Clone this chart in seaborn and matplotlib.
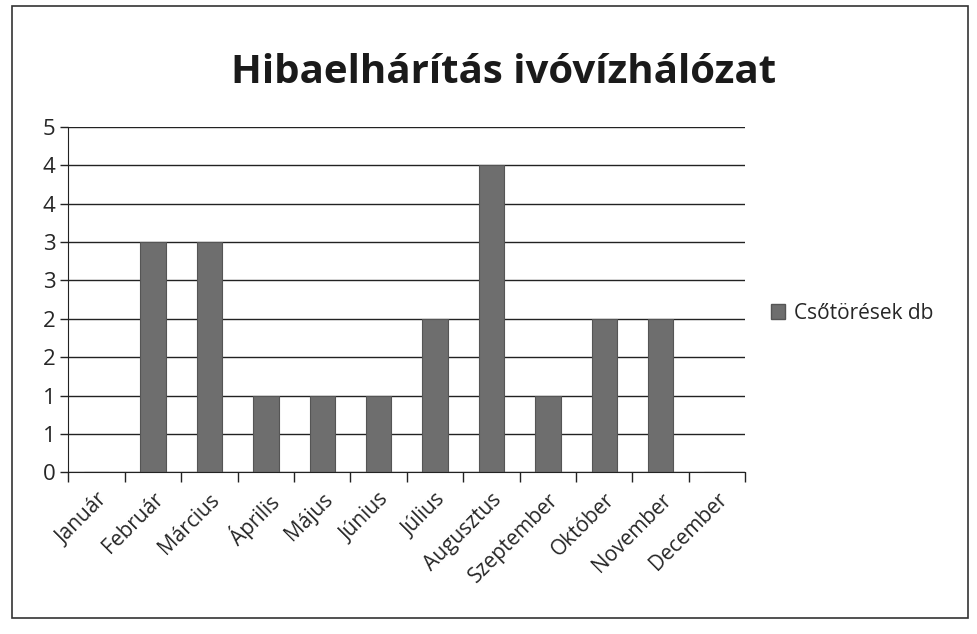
import matplotlib
matplotlib.use("Agg")
import numpy as np
import pandas as pd
import matplotlib.pyplot as plt
import seaborn as sns
from matplotlib.patches import Patch, Rectangle

# data
months = ['Január', 'Február', 'Március', 'Április', 'Május', 'Június',
          'Július', 'Augusztus', 'Szeptember', 'Október', 'November', 'December']
breaks = [0, 3, 3, 1, 1, 1, 2, 4, 1, 2, 2, 0]
y_ticks = [0, 0.5, 1, 1.5, 2, 2.5, 3, 3.5, 4, 4.5]
y_labels = ['0', '1', '1', '2', '2', '3', '3', '4', '4', '5']

df = pd.DataFrame({'Hónap': months, 'Csőtörések db': breaks})

sns.set_style('white')
plt.rcParams['font.family'] = ['Open Sans', 'DejaVu Sans']

fig = plt.figure(figsize=(9.78, 6.34), dpi=100)
ax = fig.add_axes([0.07, 0.255, 0.692, 0.545])

bar_color = '#6e6e6e'
sns.barplot(x='Hónap', y='Csőtörések db', data=df, ax=ax, color=bar_color,
            width=0.45, edgecolor='#555555', linewidth=0.8, saturation=1)

ax.set_ylim(0, 4.5)
ax.set_xlim(-0.5, len(months) - 0.5)
ax.set_yticks(y_ticks)
ax.set_yticklabels(y_labels, fontsize=16)
ax.yaxis.grid(True, color='#222222', linewidth=1.0)
ax.set_axisbelow(True)

# category boundary ticks on the x axis
ax.set_xticks(np.arange(-0.5, len(months)), minor=True)
ax.set_xticks(np.arange(len(months)))
ax.set_xticklabels(months, rotation=45, ha='right', rotation_mode='anchor', fontsize=15)
ax.tick_params(axis='x', which='major', length=0, pad=12)
ax.tick_params(axis='x', which='minor', bottom=True, length=7, width=1,
               color='#222222', direction='out')
ax.tick_params(axis='y', left=True, length=6, width=1, color='#222222', direction='out')

for side in ['top', 'right']:
    ax.spines[side].set_visible(False)
ax.spines['left'].set_color('#222222')
ax.spines['bottom'].set_color('#222222')
ax.set_xlabel('')
ax.set_ylabel('')

fig.text(0.515, 0.885, 'Hibaelhárítás ivóvízhálózat', ha='center', va='center',
         fontsize=29, fontweight='bold', color='#1a1a1a')

ax.legend(handles=[Patch(facecolor=bar_color, edgecolor='#555555', label='Csőtörések db')],
          loc='center left', bbox_to_anchor=(1.01, 0.46), frameon=False,
          fontsize=15, handlelength=0.7, handleheight=0.7, handletextpad=0.4)

# outer chart border
fig.patches.append(Rectangle((0.012, 0.025), 0.978, 0.965, transform=fig.transFigure,
                             fill=False, edgecolor='#333333', linewidth=1.2))

fig.savefig('out.png', dpi=100)
